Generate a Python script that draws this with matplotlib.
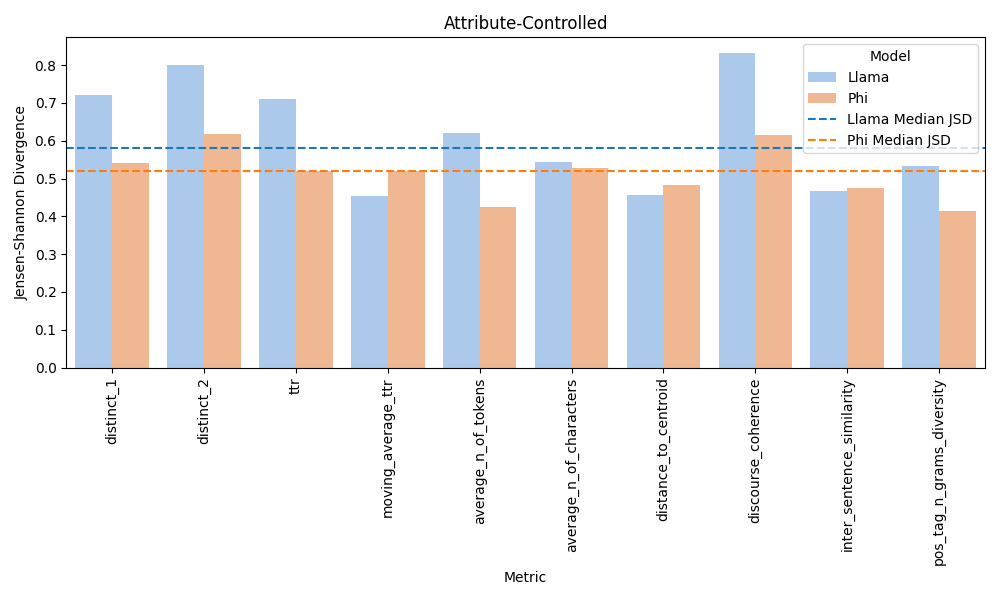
import matplotlib
matplotlib.use('Agg')
import matplotlib.pyplot as plt
import seaborn as sns
import pandas as pd
import numpy as np

metrics = ['distinct_1', 'distinct_2', 'ttr', 'moving_average_ttr', 'average_n_of_tokens',
           'average_n_of_characters', 'distance_to_centroid', 'discourse_coherence',
           'inter_sentence_similarity', 'pos_tag_n_grams_diversity']
llama = [0.722, 0.800, 0.710, 0.453, 0.620, 0.543, 0.457, 0.832, 0.467, 0.533]
phi = [0.540, 0.617, 0.519, 0.519, 0.425, 0.527, 0.483, 0.615, 0.474, 0.414]

df = pd.DataFrame({
    'Metric': metrics * 2,
    'JSD': llama + phi,
    'Model': ['Llama'] * len(metrics) + ['Phi'] * len(metrics),
})

plt.figure(figsize=(10, 6))
ax = sns.barplot(data=df, x='Metric', y='JSD', hue='Model', palette='pastel')
ax.axhline(np.median(llama), color='tab:blue', linestyle='--', label='Llama Median JSD')
ax.axhline(np.median(phi), color='tab:orange', linestyle='--', label='Phi Median JSD')
plt.title('Attribute-Controlled')
plt.xlabel('Metric')
plt.ylabel('Jensen-Shannon Divergence')
plt.xticks(rotation=90)
plt.legend(title='Model', loc='upper right')
plt.tight_layout()
plt.savefig('out.png', dpi=100)
